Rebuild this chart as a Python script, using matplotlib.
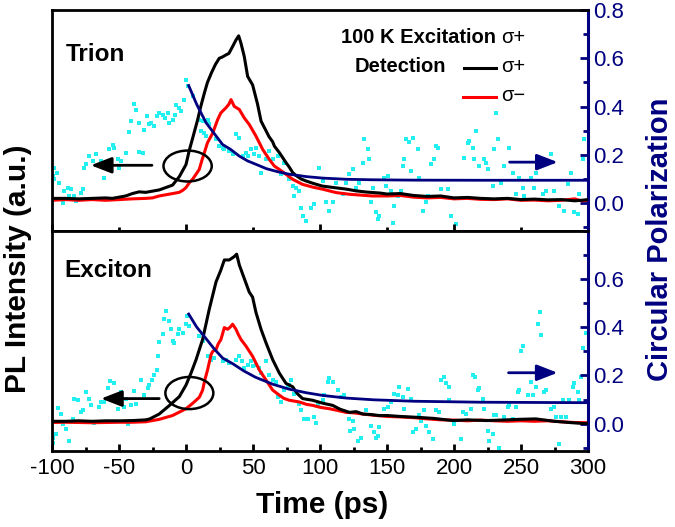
import matplotlib
matplotlib.use("Agg")
import matplotlib.pyplot as plt
from matplotlib.patches import Ellipse
from matplotlib.ticker import MultipleLocator, FixedLocator

plt.rcParams['font.family'] = ['Liberation Sans', 'DejaVu Sans']
plt.rcParams['axes.unicode_minus'] = False

NAVY = '#000080'
CYAN = '#22f0f0'

# ---------------- data (Trion, top panel) ----------------
trion_sp_t = [-100, -90, -80, -70, -60, -55, -50, -45, -40, -35, -30, -25, -20, -15, -10, -5, 0, 2.5, 5, 8.7, 11,
              13.7, 16, 19, 22, 24.8, 27, 29.8, 32, 34.8, 37.3, 39.3, 41, 43.5, 46, 49.7, 53.4, 56, 59.7, 62, 64.6,
              66, 69.6, 72, 75, 77, 79.6, 82, 86, 89.6, 95, 101.7, 110, 120, 127, 135, 145, 150, 160, 170, 180,
              190, 200, 210, 220, 230, 240, 250, 260, 270, 280, 290, 295, 300]
trion_sp = [0.02, 0.02, 0.018, 0.02, 0.022, 0.02, 0.025, 0.03, 0.04, 0.047, 0.045, 0.05, 0.055, 0.065, 0.075, 0.11,
            0.16, 0.22, 0.27, 0.346, 0.40, 0.456, 0.50, 0.54, 0.575, 0.60, 0.605, 0.614, 0.62, 0.649, 0.676, 0.693,
            0.663, 0.607, 0.525, 0.49, 0.41, 0.34, 0.30, 0.275, 0.255, 0.236, 0.21, 0.19, 0.165, 0.15, 0.127, 0.115,
            0.10, 0.092, 0.082, 0.071, 0.065, 0.058, 0.051, 0.046, 0.042, 0.038, 0.040, 0.032, 0.028, 0.030, 0.022,
            0.024, 0.020, 0.018, 0.020, 0.015, 0.017, 0.014, 0.015, 0.010, 0.012, 0.015]

trion_sm_t = [-100, -90, -80, -70, -60, -50, -40, -30, -25, -20, -15, -10, -5, -2, 0, 2.5, 5, 7.5, 9.9, 12, 13.7,
              16, 19.9, 23.6, 26, 29.8, 32, 33.6, 36, 39.8, 43.5, 47.2, 52.2, 57.2, 62.2, 65.9, 69.6, 74.6, 79.6,
              87, 95, 102, 112, 122, 139, 150, 160, 170, 180, 190, 200, 210, 220, 230, 240, 250, 260, 270, 280,
              290, 295, 300]
trion_sm = [0.012, 0.015, 0.012, 0.015, 0.012, 0.015, 0.018, 0.02, 0.022, 0.03, 0.035, 0.04, 0.045, 0.055, 0.065,
            0.085, 0.10, 0.12, 0.14, 0.18, 0.209, 0.25, 0.29, 0.346, 0.374, 0.395, 0.41, 0.429, 0.401, 0.388,
            0.353, 0.326, 0.278, 0.223, 0.181, 0.154, 0.14, 0.12, 0.099, 0.078, 0.066, 0.058, 0.044, 0.037, 0.03,
            0.03, 0.032, 0.025, 0.022, 0.024, 0.018, 0.02, 0.016, 0.015, 0.018, 0.012, 0.013, 0.01, 0.012, 0.018,
            0.01, 0.012]

trion_fit_t = [2, 8, 15, 21, 27.3, 33, 39.8, 46, 52.2, 60, 68, 77, 90, 102, 120, 139, 170, 220, 260, 300]
trion_fit = [0.487, 0.409, 0.333, 0.289, 0.243, 0.224, 0.195, 0.175, 0.161, 0.143, 0.131, 0.12, 0.11, 0.104,
             0.099, 0.097, 0.0955, 0.095, 0.095, 0.095]

trion_pol_t = [-100, -99.6, -98.3, -98.3, -96.6, -94.6, -92, -90.8, -88.4, -87.1, -85.8, -83.4, -82, -78.4, -77.2,
               -75.9, -74.6, -72.7, -69.7, -67.2, -63.4, -61, -57.2, -54.8, -53.5, -51, -49.8, -48.5, -44.8, -42.8,
               -41, -38.6, -37.3, -35.4, -34.9, -32.4, -31.1, -29.4, -27.4, -26.1, -23.7, -21.9, -19.9, -17.5,
               -15.4, -13.7, -12.5, -10, -8, -7.5, -5, -3.7, -1.3, 0, 1.2, 4.9, 9.9, 11.2, 12.4, 13.7, 15, 16.1,
               17.4, 22.4, 24.8, 27.3, 28.6, 32.3, 34.8, 37.3, 39.8, 42.2, 44.8, 46, 48.5, 51, 52.2, 54.7, 56,
               59.7, 62.2, 64.6, 68.4, 70.9, 73.4, 77.1, 79.6, 80.8, 82.1, 84.6, 85.8, 87, 89.6, 93.3, 95.7, 99.5,
               102, 104.5, 107, 109.4, 111.9, 116.9, 119.4, 121.9, 124.3, 126.9, 129.3, 131.8, 133, 135.5, 136.8,
               138, 139.3, 141.8, 143, 144.3, 148, 149.3, 150.4, 153, 154.2, 155.4, 157.9, 160.4, 161.6, 162.9,
               164.2, 166.6, 167.9, 169.1, 172.8, 174.1, 176.6, 179.1, 180.3, 182.8, 185.3, 186.6, 187.8, 190.3,
               195.2, 197.8, 201.5, 207.7, 210.1, 211.4, 213.9, 215, 216.4, 218.9, 222.6, 223.9, 225.1, 228.8,
               230.1, 231.3, 232.5, 235, 237.5, 241.3, 243.8, 246.3, 248.7, 251.2, 252.5, 257.5, 259.9, 261.2,
               266.1, 268.6, 272.4, 274.8, 278.6, 282.3, 284.8, 287.3, 289.8, 292.2, 293.5, 296, 297.2]
trion_pol = [0.082, 0.113, 0.147, 0.099, 0.127, 0.085, 0.0, 0.051, 0.065, 0.03, 0.058, 0.03, 0.01, 0.044, 0.058,
             0.147, 0.161, 0.195, 0.174, 0.202, 0.174, 0.106, 0.223, 0.239, 0.23, 0.181, 0.147, 0.174, 0.206,
             0.294, 0.339, 0.412, 0.388, 0.333, 0.212, 0.209, 0.305, 0.363, 0.326, 0.333, 0.319, 0.36, 0.374,
             0.367, 0.353, 0.374, 0.333, 0.346, 0.367, 0.408, 0.395, 0.381, 0.429, 0.511, 0.487, 0.442, 0.346,
             0.298, 0.339, 0.291, 0.278, 0.346, 0.33, 0.264, 0.236, 0.23, 0.223, 0.216, 0.202, 0.285, 0.271,
             0.195, 0.209, 0.195, 0.223, 0.202, 0.23, 0.195, 0.127, 0.181, 0.216, 0.181, 0.195, 0.12, 0.168,
             0.099, 0.071, 0.03, 0.065, 0.051, -0.018, -0.052, -0.073, -0.018, -0.004, 0.147, 0.092, 0.003,
             -0.032, 0.003, 0.085, 0.037, 0.085, 0.12, 0.14, 0.065, 0.085, 0.168, 0.264, 0.223, 0.181, 0.003,
             0.065, -0.038, -0.066, -0.052, 0.106, 0.071, 0.113, 0.051, -0.08, -0.011, 0.03, 0.051, 0.154, 0.181,
             0.264, 0.253, 0.133, 0.271, 0.223, 0.106, -0.032, 0.003, 0.03, 0.161, 0.181, 0.236, 0.23, 0.058,
             0.058, -0.052, -0.087, 0.188, 0.25, 0.257, 0.23, 0.181, 0.298, 0.154, 0.181, 0.168, 0.14, 0.071,
             0.223, 0.374, 0.264, 0.085, 0.154, 0.23, 0.127, 0.037, 0.106, 0.065, 0.03, 0.106, 0.065, 0.127,
             0.037, 0.051, 0.202, 0.051, -0.011, -0.032, 0.078, 0.127, -0.038, -0.045, 0.037, 0.181, 0.264]

# ---------------- data (Exciton, bottom panel) ----------------
exc_sp_t = [-100, -90, -80, -70, -60, -50, -40, -30, -27, -20, -12.5, -5, 0, 3.7, 7.5, 12.4, 17.4, 22.4, 26,
            28.6, 32.3, 36, 37.8, 39.8, 43.5, 47.2, 49.7, 52.2, 56, 59.7, 64.7, 69.7, 74.6, 79.6, 83, 87, 94.5,
            102, 109.4, 115, 122, 127, 132, 138, 144, 150, 160, 174, 185, 199, 210, 224, 235, 248, 261, 275,
            286, 298.5, 300]
exc_sp = [0.01, 0.01, 0.012, 0.01, 0.012, 0.012, 0.013, 0.016, 0.02, 0.04, 0.075, 0.112, 0.16, 0.209, 0.265,
          0.349, 0.475, 0.587, 0.636, 0.678, 0.678, 0.692, 0.702, 0.657, 0.601, 0.545, 0.524, 0.461, 0.391,
          0.335, 0.265, 0.209, 0.167, 0.153, 0.125, 0.104, 0.097, 0.085, 0.076, 0.06, 0.047, 0.05, 0.04, 0.038,
          0.034, 0.034, 0.03, 0.026, 0.022, 0.013, 0.016, 0.013, 0.015, 0.018, 0.02, 0.01, 0.005, 0.0, 0.002]

exc_sm_t = [-100, -90, -80, -70, -60, -50, -40, -30, -20, -10, 0, 4, 7.5, 10, 12.4, 14, 16.1, 18.7, 20, 22.4, 24,
            26.1, 28.6, 31.1, 33, 34.8, 37.3, 39, 41, 44.8, 49.7, 54.7, 59.7, 64.7, 69.7, 73, 77.1, 84.6, 90,
            94.5, 100, 107, 113, 119.4, 125, 132, 140, 150, 160, 170, 180, 190, 200, 210, 220, 230, 240, 250,
            260, 270, 280, 290, 300]
exc_sm = [0.005, 0.006, 0.005, 0.004, 0.005, 0.006, 0.006, 0.008, 0.018, 0.034, 0.062, 0.08, 0.097, 0.11, 0.139,
          0.18, 0.223, 0.286, 0.30, 0.307, 0.33, 0.349, 0.398, 0.391, 0.40, 0.412, 0.391, 0.37, 0.349, 0.321,
          0.279, 0.223, 0.181, 0.139, 0.118, 0.105, 0.097, 0.09, 0.08, 0.076, 0.068, 0.062, 0.055, 0.047, 0.045,
          0.04, 0.035, 0.03, 0.028, 0.025, 0.02, 0.016, 0.015, 0.012, 0.015, 0.012, 0.01, 0.012, 0.01, 0.012,
          0.008, 0.005, 0.004]

exc_fit_t = [2, 8, 15, 21, 27.3, 35, 43, 52, 65, 77, 90, 102, 120, 140, 170, 220, 260, 300]
exc_fit = [0.454, 0.40, 0.352, 0.31, 0.272, 0.248, 0.219, 0.192, 0.163, 0.143, 0.128, 0.117, 0.106, 0.099,
           0.093, 0.089, 0.088, 0.087]

exc_pol_t = [-99.5, -99, -97, -95.8, -93.3, -92, -89.6, -87.1, -84.6, -83.4, -80.9, -78.4, -77.2, -74.6, -72.2,
             -70.9, -68.4, -64.7, -63.4, -61, -58.5, -56.7, -53.5, -51, -48.5, -46, -44.8, -43.6, -41, -38.6,
             -37.3, -33.6, -31.1, -28.7, -27.4, -25.4, -23.7, -21.9, -21, -19.9, -17.5, -16.2, -14.9, -13, -11.2,
             -10, -8.7, -6.3, -5, -2.5, 0, 0.5, 2.5, 9.9, 12.4, 16.1, 18.7, 21.1, 27.3, 29.8, 32.3, 37.3, 39.8,
             41.8, 43.5, 46, 48.5, 49.7, 52.2, 54.7, 56, 59.7, 62.2, 64.6, 67.2, 68.4, 70.9, 73.4, 75.8, 77.1,
             78.4, 80.8, 84.6, 85.8, 88.3, 90.7, 95.7, 97, 98.2, 102, 103.2, 105.7, 107, 109.4, 113.1, 115.7,
             118.1, 121.9, 122.5, 124.3, 125.6, 128.1, 130.6, 134.1, 138.1, 140.5, 141.8, 143, 144.3, 148, 150.4,
             153, 155.4, 157.9, 159.2, 161.6, 162.9, 165.4, 167.9, 169.1, 171.6, 174.1, 175.3, 177.8, 179.1,
             181.6, 184, 186.6, 189, 190.3, 192.8, 194, 196, 196.5, 200.2, 205.2, 206.4, 208.9, 212.7, 213.9,
             215.9, 217.7, 218.9, 221.4, 222.6, 225.1, 226.4, 228.8, 230.1, 231.3, 233.8, 237.5, 240, 241.3,
             243.8, 246.3, 247.5, 248.7, 250, 251.7, 254.9, 257.5, 258.7, 261.2, 262.4, 264.2, 265, 267.4, 268.7,
             272.4, 274.8, 276.1, 278.6, 279.8, 281, 283.5, 286, 288.5, 289.8, 292.2, 293.5, 294.7, 296, 298.5]
exc_pol = [-0.058, -0.078, -0.043, 0.066, 0.041, 0.0, -0.022, -0.071, 0.02, 0.104, 0.097, 0.048, 0.055, 0.132,
           0.104, 0.076, 0.005, 0.068, 0.09, 0.09, 0.146, 0.176, 0.167, 0.062, 0.132, 0.068, 0.104, 0.0, 0.076,
           0.136, 0.083, 0.181, 0.118, 0.146, 0.16, 0.181, 0.202, 0.223, 0.279, 0.337, 0.37, 0.433, 0.468, 0.426,
           0.391, 0.342, 0.335, 0.37, 0.391, 0.377, 0.412, 0.447, 0.405, 0.363, 0.342, 0.279, 0.265, 0.272,
           0.258, 0.265, 0.251, 0.265, 0.279, 0.258, 0.23, 0.244, 0.258, 0.237, 0.244, 0.23, 0.209, 0.258, 0.202,
           0.181, 0.174, 0.111, 0.09, 0.139, 0.153, 0.16, 0.181, 0.125, 0.083, 0.055, 0.02, 0.02, 0.026, 0.005,
           0.083, 0.097, 0.118, 0.174, 0.188, 0.174, 0.139, 0.111, 0.118, 0.02, -0.029, 0.013, -0.022, -0.071,
           -0.058, 0.055, -0.008, -0.036, -0.058, -0.05, -0.015, 0.062, 0.068, 0.09, 0.125, 0.118, 0.153, 0.111,
           0.062, 0.142, 0.104, -0.036, -0.022, 0.034, 0.013, 0.055, -0.008, -0.036, -0.064, 0.055, 0.048, 0.181,
           0.195, 0.167, 0.153, 0.097, 0.0, -0.064, 0.048, 0.041, 0.062, 0.202, 0.192, 0.139, 0.146, 0.104,
           0.062, -0.029, -0.071, -0.043, 0.034, 0.034, -0.1, 0.026, 0.068, 0.076, 0.02, 0.068, 0.132, 0.139,
           0.3, 0.321, 0.118, 0.174, 0.118, 0.153, 0.412, 0.461, 0.366, 0.132, 0.139, 0.062, 0.068, 0.026,
           -0.085, 0.026, 0.097, 0.026, 0.097, 0.153, 0.167, 0.132, 0.097, 0.195, 0.314, 0.377]

panel_names = ['Trion', 'Exciton']
legend_title = '100 K Excitation'
legend_det = 'Detection'
x_ticks = [-100, -50, 0, 50, 100, 150, 200, 250, 300]

# ---------------- figure ----------------
fig = plt.figure(figsize=(6.75, 5.27), dpi=100)
L, R = 52 / 675, 588 / 675
ax1 = fig.add_axes([L, 1 - 230.5 / 527, R - L, 220.5 / 527])
ax2 = fig.add_axes([L, 1 - 451 / 527, R - L, 220.5 / 527])

panels = [
    (ax1, trion_sp_t, trion_sp, trion_sm_t, trion_sm, trion_fit_t, trion_fit, trion_pol_t, trion_pol),
    (ax2, exc_sp_t, exc_sp, exc_sm_t, exc_sm, exc_fit_t, exc_fit, exc_pol_t, exc_pol),
]
for ax, st, s, mt, m, ft, f, pt, p in panels:
    ax.plot(pt, p, ls='none', marker='s', ms=3.3, mew=0, color=CYAN, zorder=1)
    ax.plot(mt, m, color='#ff0000', lw=2.2, zorder=2)
    ax.plot(st, s, color='black', lw=2.2, zorder=3)
    ax.plot(ft, f, color=NAVY, lw=2.0, zorder=4)
    ax.set_xlim(-100, 300)
    ax.set_ylim(-0.113, 0.8)
    for sp in ['left', 'top', 'bottom']:
        ax.spines[sp].set_linewidth(2.0)
        ax.spines[sp].set_color('black')
    ax.spines['right'].set_linewidth(2.2)
    ax.spines['right'].set_color(NAVY)
    ax.yaxis.tick_right()
    ax.yaxis.set_minor_locator(MultipleLocator(0.1))
    ax.tick_params(axis='y', which='both', direction='in', colors=NAVY, width=2, labelsize=16,
                   left=False, right=True, pad=4)
    ax.tick_params(axis='y', which='major', length=6)
    ax.tick_params(axis='y', which='minor', length=3.5)
    ax.tick_params(axis='x', which='both', direction='in', width=2, top=False, bottom=True)
    ax.tick_params(axis='x', which='major', length=5)
    ax.tick_params(axis='x', which='minor', length=3)
    ax.tick_params(axis='y', labelcolor=NAVY)

ax1.set_yticks([0.0, 0.2, 0.4, 0.6, 0.8])
ax1.set_yticklabels(['0.0', '0.2', '0.4', '0.6', '0.8'])
ax1.xaxis.set_major_locator(MultipleLocator(100))
ax1.xaxis.set_minor_locator(MultipleLocator(50))
ax1.tick_params(axis='x', labelbottom=False)

ax2.set_yticks([0.0, 0.2, 0.4, 0.6])
ax2.set_yticklabels(['0.0', '0.2', '0.4', '0.6'])
ax2.set_xticks(x_ticks)
ax2.set_xticklabels([str(v) for v in x_ticks])
ax2.xaxis.set_minor_locator(MultipleLocator(25))
ax2.tick_params(axis='x', labelsize=16, pad=5)

# panel names
ax1.text(0.026, 0.80, panel_names[0], transform=ax1.transAxes, fontsize=17.5, fontweight='bold',
         va='center', ha='left')
ax2.text(0.024, 0.82, panel_names[1], transform=ax2.transAxes, fontsize=17.5, fontweight='bold',
         va='center', ha='left')

# legend-like annotation in top panel
ax1.text(231.6, 0.685, legend_title, fontsize=14.5, fontweight='bold', ha='right', va='center')
ax1.text(235.5, 0.685, 'σ+', fontsize=14.5, ha='left', va='center')
ax1.text(194.3, 0.565, legend_det, fontsize=14.5, fontweight='bold', ha='right', va='center')
ax1.plot([207.7, 231.6], [0.561, 0.561], color='black', lw=2.2)
ax1.text(235.5, 0.565, 'σ+', fontsize=14.5, ha='left', va='center')
ax1.plot([206.5, 231.6], [0.441, 0.441], color='#ff0000', lw=2.2)
ax1.text(235.5, 0.445, 'σ−', fontsize=14.5, ha='left', va='center')

# arrows and ellipses
arrow_style = dict(arrowstyle='-|>,head_length=0.9,head_width=0.35', lw=2.0, shrinkA=0, shrinkB=0,
                   mutation_scale=14)
ax1.annotate('', xy=(-71, 0.157), xytext=(-25.4, 0.157), arrowprops=dict(color='black', **arrow_style))
ax1.annotate('', xy=(277.4, 0.17), xytext=(241.5, 0.17), arrowprops=dict(color=NAVY, **arrow_style))
ax2.annotate('', xy=(-63.4, 0.104), xytext=(-20, 0.104), arrowprops=dict(color='black', **arrow_style))
ax2.annotate('', xy=(277.3, 0.211), xytext=(240.7, 0.211), arrowprops=dict(color=NAVY, **arrow_style))
ax1.add_patch(Ellipse((1.2, 0.154), 36, 0.128, fill=False, ec='black', lw=1.8, zorder=5))
ax2.add_patch(Ellipse((2.5, 0.127), 35.8, 0.133, fill=False, ec='black', lw=1.8, zorder=5))

# axis labels
fig.text(0.027, 0.49, 'PL Intensity (a.u.)', rotation=90, fontsize=21.5, fontweight='bold',
         ha='center', va='center')
fig.text(0.978, 0.545, 'Circular Polarization', rotation=90, fontsize=21, fontweight='bold',
         color=NAVY, ha='center', va='center')
fig.text(322 / 675, 1 - 505 / 527, 'Time (ps)', fontsize=21.5, fontweight='bold', ha='center', va='center')

fig.savefig('out.png', dpi=100)
